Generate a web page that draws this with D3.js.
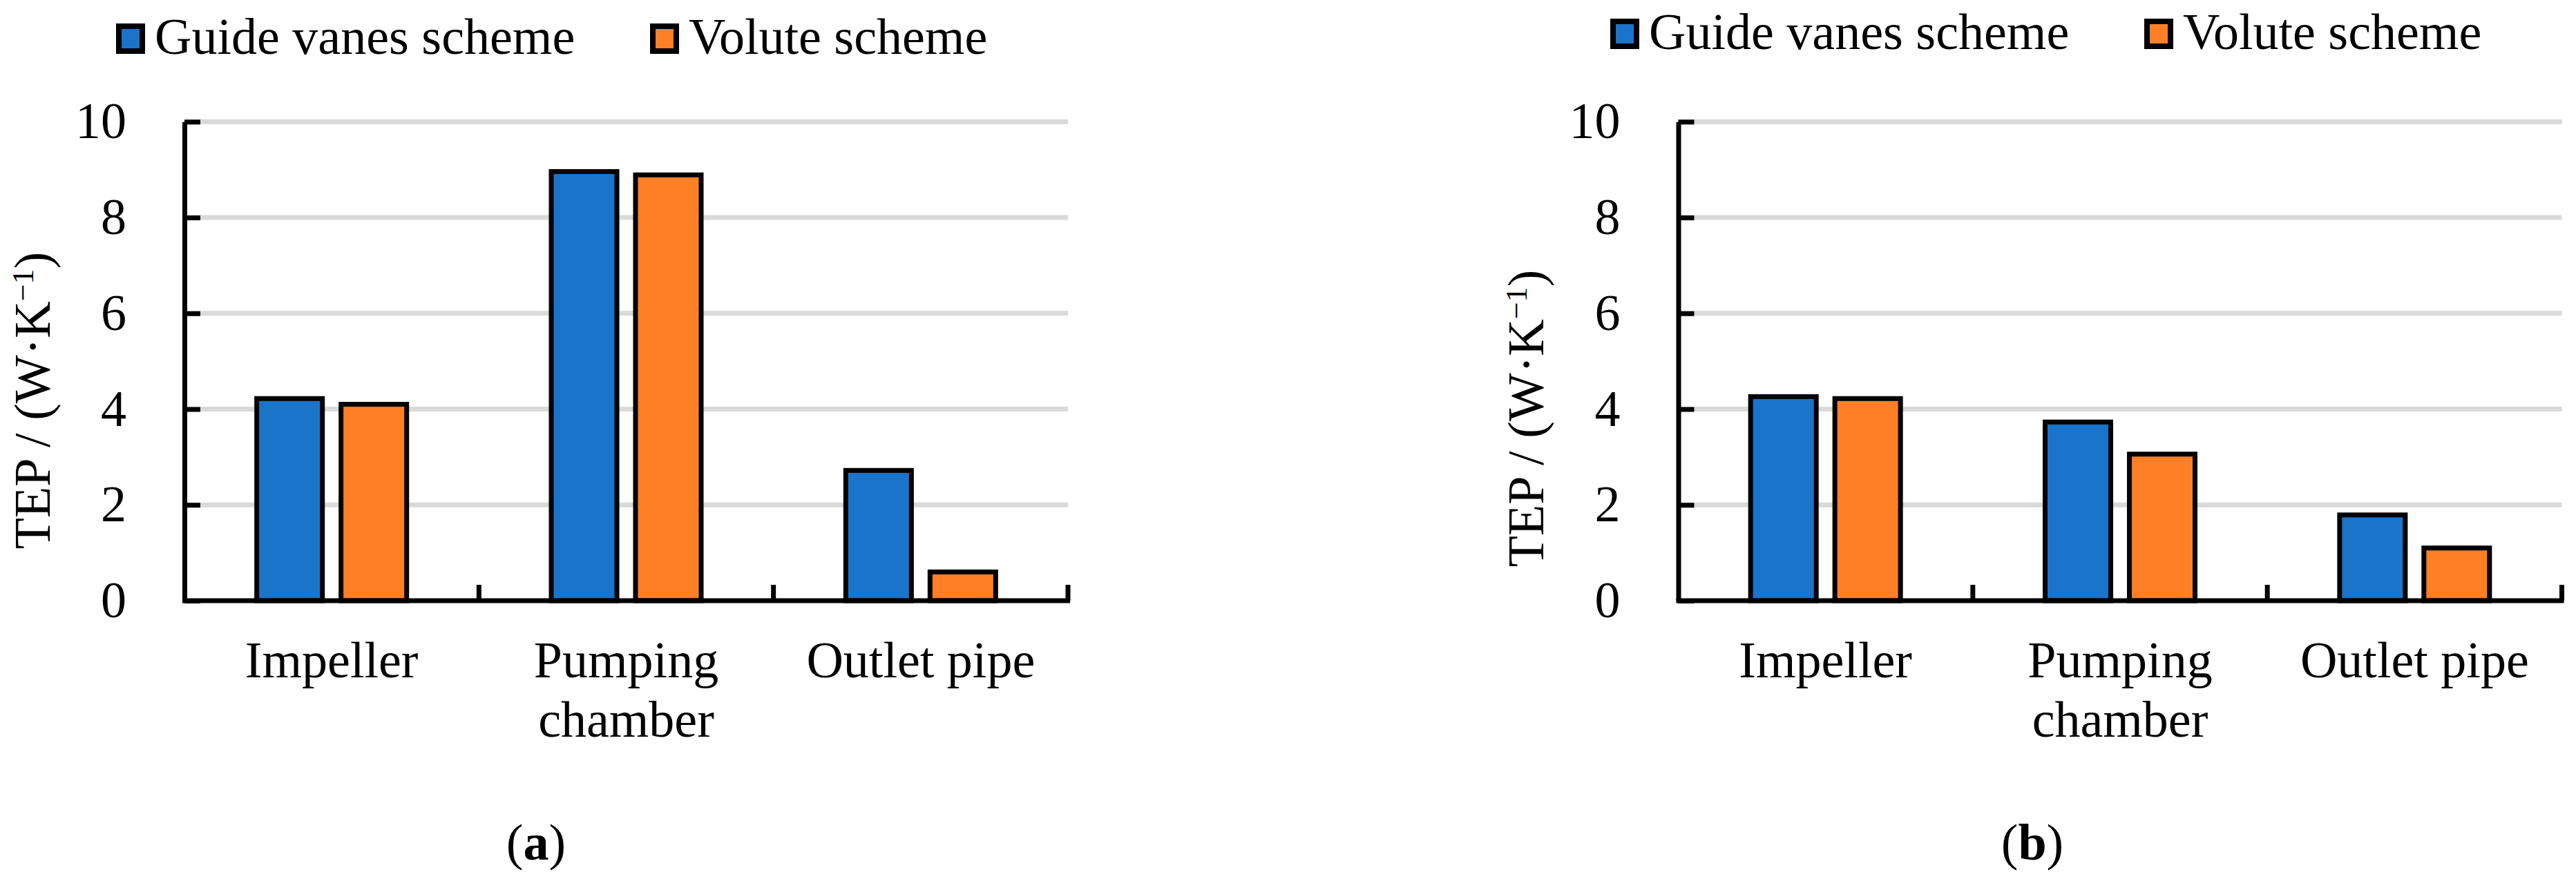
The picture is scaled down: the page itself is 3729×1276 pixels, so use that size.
<!DOCTYPE html>
<html>
<head>
<meta charset="utf-8">
<script src="https://cdn.jsdelivr.net/npm/d3@7"></script>
<style>
  body { margin: 0; background: #fff; }
  text { font-family: "Liberation Serif", "Times New Roman", serif; fill: #000; }
</style>
</head>
<body>
<script>
// data
const categories = ["Impeller", "Pumping chamber", "Outlet pipe"];
const tickLines = [["Impeller"], ["Pumping", "chamber"], ["Outlet pipe"]];
const series = ["Guide vanes scheme", "Volute scheme"];
const colors = ["#1a74c9", "#ff7f27"];
const yTicks = [0, 2, 4, 6, 8, 10];

const guideA = [4.22, 8.96, 2.72];
const voluteA = [4.10, 8.89, 0.60];
const guideB = [4.26, 3.73, 1.79];
const voluteB = [4.22, 3.06, 1.10];

const W = 3729, H = 1276;
const fontSize = 74;

const svg = d3.select("body").append("svg")
    .attr("width", W)
    .attr("height", H);

const color = d3.scaleOrdinal().domain(series).range(colors);

function drawPanel(p) {
    const g = svg.append("g");
    const rows = categories.map((c, i) => ({ cat: c, vals: [p.guide[i], p.volute[i]] }));

    // scales
    const x = d3.scaleBand()
        .domain(categories)
        .range([p.left, p.left + 1279]);

    const y = d3.scaleLinear()
        .domain([0, 10])
        .range([870, 176.3]);

    const half = x.bandwidth() / 2;
    const sub = d3.scaleBand()
        .domain(series)
        .range([half - 108.5, half + 108.5])
        .paddingInner(0.221);

    // gridlines
    g.append("g").selectAll("line")
        .data(yTicks.filter(t => t > 0))
        .enter()
        .append("line")
        .attr("x1", p.left)
        .attr("x2", p.left + 1279)
        .attr("y1", d => y(d))
        .attr("y2", d => y(d))
        .style("stroke", "#d9d9d9")
        .style("stroke-width", 7);

    // bars
    const grp = g.selectAll(".cat")
        .data(rows)
        .enter()
        .append("g")
        .attr("transform", d => `translate(${x(d.cat)},0)`);

    grp.selectAll("rect")
        .data(d => d.vals.map((v, i) => ({ s: series[i], v })))
        .enter()
        .append("rect")
        .attr("x", d => sub(d.s))
        .attr("width", sub.bandwidth())
        .attr("y", d => y(d.v))
        .attr("height", d => y(0) - y(d.v))
        .style("fill", d => color(d.s))
        .style("stroke", "#000")
        .style("stroke-width", 7);

    // y axis, ticks point inwards
    const yAxis = g.append("g")
        .attr("transform", `translate(${p.left},0)`)
        .call(d3.axisLeft(y).tickValues(yTicks).tickSizeInner(-23).tickSizeOuter(0).tickPadding(84));
    yAxis.select(".domain").style("stroke-width", 7);
    yAxis.selectAll(".tick line").style("stroke-width", 7);
    yAxis.selectAll(".tick text")
        .attr("font-size", fontSize)
        .attr("font-family", null);

    // x axis line + short ticks between categories
    g.append("line")
        .attr("x1", p.left - 3)
        .attr("x2", p.left + 1279 + 3)
        .attr("y1", y(0))
        .attr("y2", y(0))
        .style("stroke", "#000")
        .style("stroke-width", 7);

    g.append("g").selectAll("line")
        .data(categories)
        .enter()
        .append("line")
        .attr("x1", d => x(d) + x.bandwidth())
        .attr("x2", d => x(d) + x.bandwidth())
        .attr("y1", y(0))
        .attr("y2", y(0) - 23)
        .style("stroke", "#000")
        .style("stroke-width", 7);

    // category labels
    const lab = g.append("g").selectAll("text")
        .data(categories)
        .enter()
        .append("text")
        .attr("text-anchor", "middle")
        .attr("font-size", fontSize)
        .attr("y", 981);
    lab.each(function (d, i) {
        const t = d3.select(this);
        tickLines[i].forEach((line, j) => {
            t.append("tspan")
                .attr("x", x(d) + half)
                .attr("dy", j === 0 ? 0 : 86)
                .text(line);
        });
    });

    // y title
    const title = g.append("text")
        .attr("transform", `translate(${p.titleX},${p.titleY}) rotate(-90)`)
        .attr("text-anchor", "middle")
        .attr("font-size", fontSize);
    title.append("tspan").text("TEP / (W·K");
    title.append("tspan").attr("font-size", 44).attr("dy", -24).text("\u22121");
    title.append("tspan").attr("dy", 24).text(")");

    // legend
    const legend = g.selectAll(".legend")
        .data(series)
        .enter()
        .append("g")
        .attr("transform", (d, i) => `translate(${p.legendX + i * 773},${p.legendY})`);

    legend.append("rect")
        .attr("x", 4)
        .attr("y", 4)
        .attr("width", 34)
        .attr("height", 36)
        .style("fill", d => color(d))
        .style("stroke", "#000")
        .style("stroke-width", 8);

    legend.append("text")
        .attr("x", 56)
        .attr("y", 44)
        .attr("font-size", fontSize)
        .text(d => d);

    // panel label
    const pl = g.append("text")
        .attr("x", p.labelX)
        .attr("y", 1245)
        .attr("text-anchor", "middle")
        .attr("font-size", fontSize);
    pl.append("tspan").text("(");
    pl.append("tspan").attr("font-weight", "bold").text(p.label);
    pl.append("tspan").text(")");
}

drawPanel({ left: 267, guide: guideA, volute: voluteA, titleX: 72, titleY: 580,
            legendX: 168, legendY: 34, labelX: 776, label: "a" });
drawPanel({ left: 2429.5, guide: guideB, volute: voluteB, titleX: 2234, titleY: 606,
            legendX: 2331, legendY: 27, labelX: 2942, label: "b" });
</script>
</body>
</html>
